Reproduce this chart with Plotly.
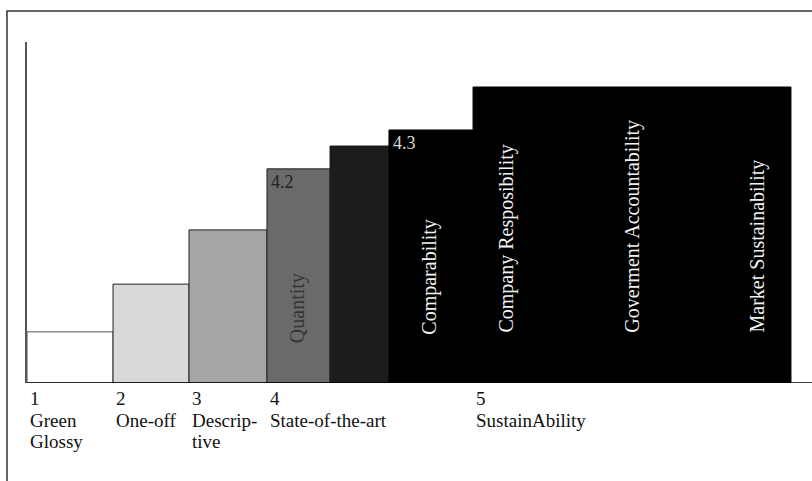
import plotly.graph_objects as go

# ---- data -------------------------------------------------------------
# stage bars: width of each step along the x scale (0-100) and its height (0-100)
stage_widths = [10.96, 9.68, 9.93, 8.03, 7.51, 10.71, 40.50]
stage_heights = [15.0, 29.0, 44.9, 62.8, 69.5, 74.2, 86.8]
stage_colors = ["#ffffff", "#d9d9d9", "#a6a6a6", "#6a6a6a", "#1c1c1c", "#000000", "#000000"]
outline_colors = ["#555555", "#222222", "#222222", "#222222", "#1e1e1e", "#000000", "#000000"]

# tick labels (placed at left edge of the bar they belong to)
tick_bar_index = [0, 1, 2, 3, 6]
tick_numbers = ["1", "2", "3", "4", "5"]
tick_names = [["Green", "Glossy"], ["One-off"], ["Descrip-", "tive"],
              ["State-of-the-art"], ["SustainAbility"]]

# rotated labels inside bars: (text, x, y_bottom, colour)
inner_labels = [
    ("Quantity", 34.4, 11.1, "#333333"),
    ("Comparability", 51.3, 13.5, "#f2f2f2"),
    ("Company Resposibility", 61.1, 14.1, "#f2f2f2"),
    ("Goverment Accountability", 77.1, 14.1, "#f2f2f2"),
    ("Market Sustainability", 93.0, 14.1, "#f2f2f2"),
]
# small level numbers at bar tops: (text, bar index, colour)
level_labels = [("4.2", 3, "#222222"), ("4.3", 5, "#d8d8d8")]

# ---- derived geometry ------------------------------------------------
lefts = []
acc = 0.0
for w in stage_widths:
    lefts.append(acc)
    acc += w
centers = [l + w / 2 for l, w in zip(lefts, stage_widths)]

FONT = "Liberation Serif, Times New Roman, serif"

fig = go.Figure()
fig.add_trace(go.Bar(
    x=centers, y=stage_heights, width=stage_widths,
    marker=dict(color=stage_colors, line=dict(color=outline_colors, width=1)),
    hoverinfo="skip", showlegend=False,
))

annotations = []
for bi, num, names in zip(tick_bar_index, tick_numbers, tick_names):
    x0 = lefts[bi]
    annotations.append(dict(x=x0, xref="x", y=0, yref="paper", text=num,
                            xanchor="left", yanchor="top", xshift=1, yshift=-3,
                            showarrow=False, font=dict(family=FONT, size=19, color="#111")))
    for li, nm in enumerate(names):
        annotations.append(dict(x=x0, xref="x", y=0, yref="paper", text=nm,
                                xanchor="left", yanchor="top", xshift=1,
                                yshift=-25 - 21 * li,
                                showarrow=False, font=dict(family=FONT, size=19, color="#111")))

for txt, x, yb, col in inner_labels:
    annotations.append(dict(x=x, y=yb, xref="x", yref="y", text=txt, textangle=-90,
                            xanchor="center", yanchor="bottom", showarrow=False,
                            font=dict(family=FONT, size=20, color=col)))

for txt, bi, col in level_labels:
    annotations.append(dict(x=lefts[bi], y=stage_heights[bi], xref="x", yref="y", text=txt,
                            xanchor="left", yanchor="top", xshift=2, yshift=-1,
                            showarrow=False, font=dict(family=FONT, size=18, color=col)))

fig.update_layout(
    width=812, height=481,
    margin=dict(l=27, r=0, t=42, b=98),
    paper_bgcolor="white", plot_bgcolor="white",
    xaxis=dict(range=[0, 100], showgrid=False, zeroline=False, showticklabels=False,
               showline=False, fixedrange=True),
    yaxis=dict(range=[0, 100], showgrid=False, zeroline=False, showticklabels=False,
               showline=True, linecolor="#555555", linewidth=2, fixedrange=True),
    annotations=annotations,
    shapes=[
        # outer frame (top and left sides visible)
        dict(type="rect", xref="paper", yref="paper", x0=-0.0255, x1=1.05, y0=-0.6, y1=1.0909,
             line=dict(color="#333333", width=1.5), layer="below"),
        # baseline
        dict(type="line", xref="paper", yref="y", x0=0, x1=1, y0=0, y1=0,
             line=dict(color="#000000", width=1.5), layer="above"),
    ],
    bargap=0,
)

fig.write_html("out.html", config={"displayModeBar": False, "staticPlot": True},
               post_script="document.body.style.margin='0';document.body.style.overflow='hidden';")
